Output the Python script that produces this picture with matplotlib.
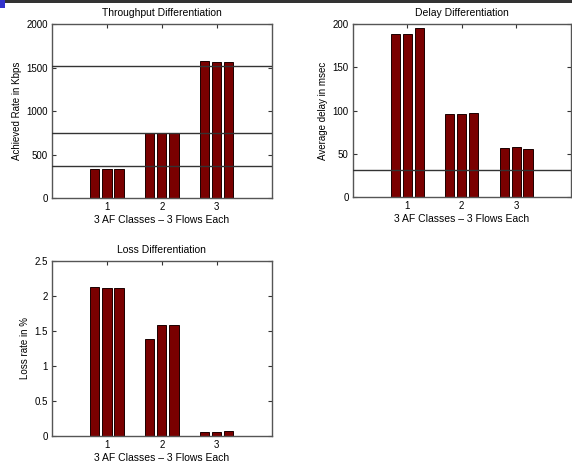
import matplotlib
matplotlib.use('Agg')
import matplotlib.pyplot as plt
import matplotlib.patches as patches
import numpy as np

plt.rcParams['font.family'] = ['Liberation Sans', 'DejaVu Sans']

# ── data ────────────────────────────────────────────────────────
classes = [1, 2, 3]
xlabel = '3 AF Classes \u2013 3 Flows Each'

thr_vals = [[330, 330, 330], [745, 745, 745], [1570, 1560, 1560]]
thr_lines = [370, 752, 1520]

delay_vals = [[188, 189, 195], [96, 96, 97], [56.5, 58, 55.5]]
delay_lines = [32]

loss_vals = [[2.13, 2.11, 2.11], [1.38, 1.59, 1.59], [0.058, 0.058, 0.064]]
loss_lines = []

BAR_COLOR = '#7a0000'
EDGE = '#1a0000'
SPINE = '#555555'


def draw_panel(ax, vals, lines, title, ylabel, ylim, yticks, yticklabels):
    vals = np.array(vals)
    offsets = [-0.22, 0.0, 0.22]
    for j, off in enumerate(offsets):
        ax.bar(np.array(classes) + off, vals[:, j], width=0.17,
               color=BAR_COLOR, edgecolor=EDGE, linewidth=0.7, zorder=2)
    for y in lines:
        ax.axhline(y, color='#333333', lw=1.0, zorder=3)

    ax.set_xlim(0, 4)
    ax.set_ylim(*ylim)
    ax.set_xticks(classes)
    ax.set_yticks(yticks)
    ax.set_yticklabels(yticklabels)
    ax.tick_params(direction='in', length=3, width=0.8, top=True, right=True,
                   labelsize=7, color='#333333', pad=3)
    for s in ax.spines.values():
        s.set_color(SPINE)
        s.set_linewidth(1.0)
    ax.set_title(title, fontsize=7.5, pad=6)
    ax.set_ylabel(ylabel, fontsize=7, labelpad=3)
    ax.set_xlabel(xlabel, fontsize=7.5, labelpad=2)


fig = plt.figure(figsize=(5.72, 4.69), dpi=100)

# slide header band and corner mark
fig.patches.append(patches.Rectangle((0, 1 - 3 / 469), 1, 3 / 469,
                                     transform=fig.transFigure,
                                     facecolor='#333333', edgecolor='none'))
fig.patches.append(patches.Rectangle((0, 1 - 8 / 469), 5 / 572, 8 / 469,
                                     transform=fig.transFigure,
                                     facecolor='#3333cc', edgecolor='none'))

ax1 = fig.add_axes([0.0909, 0.5778, 0.384, 0.371])
ax2 = fig.add_axes([0.6166, 0.5793, 0.381, 0.3695])
ax3 = fig.add_axes([0.0909, 0.071, 0.384, 0.3725])

draw_panel(ax1, thr_vals, thr_lines, 'Throughput Differentiation',
           'Achieved Rate in Kbps', (0, 2000),
           [0, 500, 1000, 1500, 2000], ['0', '500', '1000', '1500', '2000'])
draw_panel(ax2, delay_vals, delay_lines, 'Delay Differentiation',
           'Average delay in msec', (0, 200),
           [0, 50, 100, 150, 200], ['0', '50', '100', '150', '200'])
draw_panel(ax3, loss_vals, loss_lines, 'Loss Differentiation',
           'Loss rate in %', (0, 2.5),
           [0, 0.5, 1, 1.5, 2, 2.5], ['0', '0.5', '1', '1.5', '2', '2.5'])

fig.savefig('out.png', dpi=100)
